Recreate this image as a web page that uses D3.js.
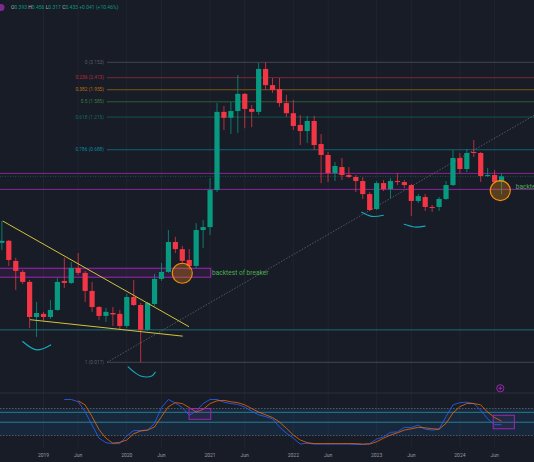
<!DOCTYPE html>
<html>
<head>
<meta charset="utf-8">
<script src="https://cdnjs.cloudflare.com/ajax/libs/d3/7.8.5/d3.min.js"></script>
<style>
  body { margin: 0; background: #181c27; }
  svg { display: block; font-family: Roboto, "Noto Sans", sans-serif; }
</style>
</head>
<body>
<div id="chart"></div>
<script>
// monthly candles, first one is Jul 2018 (month -6, month 0 = Jan 2019)
var firstMonth = -6;
var opens  = [0.136,0.141,0.0993,0.082,0.0689,0.0374,0.0395,0.0374,0.0423,0.0701,0.0677,0.0879,0.0806,0.0589,0.0445,0.0381,0.0401,0.0395,
              0.032,0.053,0.0461,0.0299,0.0469,0.0726,0.082,0.138,0.122,0.101,0.091,0.17,
              0.179,0.341,1.33,1.2,1.35,1.82,1.4,1.33,2.81,2.12,1.98,1.55,
              1.3,1.06,0.953,1.135,0.76,0.628,0.458,0.509,0.443,0.428,0.399,0.318,
              0.245,0.385,0.347,0.399,0.392,0.372,0.282,0.302,0.254,0.254,0.292,0.372,
              0.596,0.492,0.662,0.65,0.435,0.443,0.393];
var highs  = [0.199,0.143,0.105,0.0849,0.0713,0.0486,0.0409,0.0503,0.0739,0.105,0.0975,0.114,0.0834,0.0689,0.0453,0.0438,0.0445,0.0423,
              0.0559,0.0713,0.0477,0.0486,0.0792,0.0959,0.17,0.151,0.129,0.122,0.192,0.203,
              0.42,1.55,1.47,1.58,2.53,1.85,1.5,3.11,3.153,2.4,2.4,1.79,
              1.64,1.26,1.24,1.24,0.905,0.662,0.555,0.596,0.509,0.443,0.428,0.329,
              0.399,0.406,0.42,0.458,0.406,0.379,0.318,0.318,0.263,0.302,0.399,0.685,
              0.65,0.697,0.815,0.662,0.5,0.483,0.456];
var lows   = [0.12,0.091,0.0599,0.0665,0.0309,0.0265,0.0349,0.0362,0.0416,0.062,0.0665,0.0778,0.0486,0.0409,0.0355,0.0343,0.032,0.0299,
              0.0309,0.0453,0.017,0.0294,0.0453,0.0701,0.0806,0.114,0.0942,0.0849,0.0879,0.1245,
              0.156,0.329,0.97,0.905,0.921,1.0,1.02,1.26,1.947,1.85,1.45,1.22,
              0.97,0.747,0.774,0.685,0.385,0.392,0.399,0.406,0.42,0.329,0.292,0.237,
              0.241,0.335,0.297,0.372,0.353,0.217,0.272,0.237,0.233,0.237,0.287,0.366,
              0.458,0.466,0.606,0.392,0.428,0.385,0.317];
var closes = [0.141,0.101,0.0834,0.0689,0.0374,0.0401,0.0374,0.0423,0.0689,0.0677,0.0879,0.0806,0.0589,0.0445,0.0381,0.0409,0.0391,0.032,
              0.053,0.0461,0.0299,0.0477,0.0726,0.082,0.138,0.122,0.0993,0.091,0.17,0.179,
              0.341,1.33,1.2,1.35,1.82,1.4,1.33,2.81,2.12,1.95,1.55,1.3,
              1.04,0.953,1.135,0.747,0.628,0.458,0.518,0.443,0.428,0.399,0.318,0.241,
              0.385,0.347,0.399,0.392,0.372,0.282,0.307,0.254,0.25,0.292,0.372,0.596,
              0.492,0.65,0.65,0.435,0.443,0.392,0.433];

// stochastic lines (K starts Apr 2019, D starts Jun 2019)
var kStart = 3, dStart = 5;
var stochK = [100,100,95,73,43,14,4,2,2,19,31,31,32,47,82,100,92,82,65,74,91,100,100,94,91,89,83,74,66,62,57,39,25,14,
              1,3,1,1,1,1,1,1,0,0,2,12,17,27,28,38,38,43,34,32,34,62,88,93,94,91,76,57,44,44];
var stochD = [97,88,62,33,14,3,5,10,24,30,32,39,62,84,93,91,82,72,78,91,97,98,95,93,88,80,72,66,60,50,36,21,
              10,4,2,2,2,2,2,2,2,1,1,6,14,21,26,32,35,38,37,35,34,47,70,84,91,91,88,72,60,52];
var oscBand = [20, 80];
var oscLevels = [49.5, 71.5];

var tickLabels = ["2019","Jun","2020","Jun","2021","Jun","2022","Jun","2023","Jun","2024","Jun"];
var tickMonths = [0,5,12,17,24,29,36,41,48,53,60,65];

// fib retracement drawn from the Mar 2020 low
var fibLevels = [0, 0.236, 0.382, 0.5, 0.618, 0.786, 1];
var fibPrices = [3.153, 2.413, 1.955, 1.585, 1.215, 0.688, 0.017];
var fibColors = ["#787b86","#f23645","#ff9800","#4caf50","#089981","#00bcd4","#787b86"];
var fibStartMonth = 9.15, fibEndMonth = 83.9;

// other drawings (month, price)
var teal_level = 0.0299;
var purpleLevels = [0.456, 0.345];
var lastPrice = 0.433;
var breakerBox = {m0: -7, m1: 24.1, p0: 0.0874, p1: 0.0748};
var circles = [[20.0, 0.0801], [65.82, 0.338]];
var trendTop = [[-5.88, 0.199], [20.97, 0.0316]];
var trendBottom = [[-1.95, 0.0357], [20.06, 0.0268]];
var smiles = [
  [[-3.0,0.0244],[-1.0,0.0211],[1.04,0.0230]],
  [[12.2,0.0157],[14.0,0.0134],[15.6,0.0134],[16.1,0.0143]],
  [[45.85,0.2315],[47.3,0.2157],[48.96,0.2198]],
  [[51.99,0.188],[53.5,0.1793],[54.97,0.182]]
];
var notes = [["backtest of breaker", 24.28, 0.0816], ["backtest", 68.04, 0.36]];
var oscBoxes = [[20.97, 24.1, 80, 56], [64.8, 67.85, 65, 35]];

var width = 534, height = 462;
var paneSplit = 393;

var x = d3.scaleLinear().domain([0, 60]).range([43.5, 459.9]);
var y = d3.scaleLog().domain([0.017, 3.153]).range([362.3, 62.3]);
var yOsc = d3.scaleLinear().domain([0, 100]).range([444.5, 399.5]);

var up = "#089981", down = "#f23645";

var svg = d3.select("#chart").append("svg")
	.attr("width", width)
	.attr("height", height)
	.style("background", "#181c27");

svg.append("clipPath").attr("id", "mainClip")
	.append("rect").attr("width", width).attr("height", paneSplit);
svg.append("clipPath").attr("id", "oscClip")
	.append("rect").attr("y", paneSplit).attr("width", width).attr("height", 56);

// vertical grid
svg.selectAll(".vgrid").data(tickMonths).enter().append("line")
	.attr("x1", function(d){ return x(d); })
	.attr("x2", function(d){ return x(d); })
	.attr("y1", 0).attr("y2", 448)
	.attr("stroke", "#20242f");

svg.append("line")
	.attr("x1", 0).attr("x2", width)
	.attr("y1", paneSplit).attr("y2", paneSplit)
	.attr("stroke", "#2a2e39");

var main = svg.append("g").attr("clip-path", "url(#mainClip)");

// fib
var fibX0 = x(fibStartMonth);
fibPrices.forEach(function(p, i){
	main.append("line")
		.attr("x1", fibX0).attr("x2", width)
		.attr("y1", y(p)).attr("y2", y(p))
		.attr("stroke", fibColors[i])
		.attr("stroke-opacity", 0.45);
	main.append("text")
		.attr("x", fibX0 - 3).attr("y", y(p))
		.attr("dy", "0.35em")
		.attr("text-anchor", "end")
		.attr("font-size", 4.8)
		.attr("fill", fibColors[i])
		.attr("fill-opacity", 0.7)
		.text(fibLevels[i] + " (" + p.toFixed(3) + ")");
});
main.append("line")
	.attr("x1", x(fibStartMonth)).attr("y1", y(0.017))
	.attr("x2", x(fibEndMonth)).attr("y2", y(3.153))
	.attr("stroke", "#787b86").attr("stroke-opacity", 0.6)
	.attr("stroke-dasharray", "1.5,1.5");

// horizontal levels
main.append("line")
	.attr("x1", 0).attr("x2", width)
	.attr("y1", y(teal_level)).attr("y2", y(teal_level))
	.attr("stroke", "#22808c").attr("stroke-opacity", 0.8);
main.selectAll(".plevel").data(purpleLevels).enter().append("line")
	.attr("x1", 0).attr("x2", width)
	.attr("y1", function(d){ return y(d); })
	.attr("y2", function(d){ return y(d); })
	.attr("stroke", "#9c27b0").attr("stroke-opacity", 0.85);
main.append("line")
	.attr("x1", 0).attr("x2", width)
	.attr("y1", y(lastPrice)).attr("y2", y(lastPrice))
	.attr("stroke", "#089981").attr("stroke-opacity", 0.45)
	.attr("stroke-dasharray", "1,1.5");

// breaker box
main.append("rect")
	.attr("x", x(breakerBox.m0))
	.attr("y", y(breakerBox.p0))
	.attr("width", x(breakerBox.m1) - x(breakerBox.m0))
	.attr("height", y(breakerBox.p1) - y(breakerBox.p0))
	.attr("fill", "#9c27b0").attr("fill-opacity", 0.12)
	.attr("stroke", "#9c27b0").attr("stroke-width", 1);

// candles
var candles = opens.map(function(o, i){
	return {m: i + firstMonth, o: o, h: highs[i], l: lows[i], c: closes[i]};
});
var cg = main.selectAll(".candle").data(candles).enter().append("g");
cg.append("line")
	.attr("x1", function(d){ return x(d.m); })
	.attr("x2", function(d){ return x(d.m); })
	.attr("y1", function(d){ return y(d.h); })
	.attr("y2", function(d){ return y(d.l); })
	.attr("stroke", function(d){ return d.c >= d.o ? up : down; })
	.attr("stroke-opacity", 0.75);
cg.append("rect")
	.attr("x", function(d){ return x(d.m) - 2.6; })
	.attr("width", 5.2)
	.attr("y", function(d){ return y(Math.max(d.o, d.c)); })
	.attr("height", function(d){ return Math.max(1, Math.abs(y(d.o) - y(d.c))); })
	.attr("fill", function(d){ return d.c >= d.o ? up : down; });

// trend lines
[trendTop, trendBottom].forEach(function(t){
	main.append("line")
		.attr("x1", x(t[0][0])).attr("y1", y(t[0][1]))
		.attr("x2", x(t[1][0])).attr("y2", y(t[1][1]))
		.attr("stroke", "#d4c23c").attr("stroke-width", 1);
});

// smiles under the lows
var smileLine = d3.line()
	.x(function(d){ return x(d[0]); })
	.y(function(d){ return y(d[1]); })
	.curve(d3.curveCatmullRom);
main.selectAll(".smile").data(smiles).enter().append("path")
	.attr("d", smileLine)
	.attr("fill", "none")
	.attr("stroke", "#17a9bf")
	.attr("stroke-width", 1.2)
	.attr("stroke-linecap", "round");

// circles
main.selectAll(".ring").data(circles).enter().append("circle")
	.attr("cx", function(d){ return x(d[0]); })
	.attr("cy", function(d){ return y(d[1]); })
	.attr("r", 10)
	.attr("fill", "#ff9800").attr("fill-opacity", 0.28)
	.attr("stroke", "#f08a12").attr("stroke-width", 1.2);

main.selectAll(".note").data(notes).enter().append("text")
	.attr("x", function(d){ return x(d[1]); })
	.attr("y", function(d){ return y(d[2]); })
	.attr("dy", "0.35em")
	.attr("font-size", 6.6)
	.attr("fill", "#4caf50")
	.text(function(d){ return d[0]; });

// plus button
var plus = svg.append("g").attr("transform", "translate(" + x(65.82) + ",388.3)");
plus.append("circle").attr("r", 3.6).attr("fill", "none").attr("stroke", "#9c27b0");
plus.append("path").attr("d", "M-1.8,0H1.8M0,-1.8V1.8").attr("stroke", "#9c27b0");

// oscillator pane
var osc = svg.append("g").attr("clip-path", "url(#oscClip)");
osc.append("rect")
	.attr("x", 0).attr("width", width)
	.attr("y", yOsc(oscBand[1]))
	.attr("height", yOsc(oscBand[0]) - yOsc(oscBand[1]))
	.attr("fill", "#2196f3").attr("fill-opacity", 0.1);
osc.selectAll(".band").data(oscBand).enter().append("line")
	.attr("x1", 0).attr("x2", width)
	.attr("y1", function(d){ return yOsc(d); })
	.attr("y2", function(d){ return yOsc(d); })
	.attr("stroke", "#787b86").attr("stroke-opacity", 0.6)
	.attr("stroke-dasharray", "1.5,1.5");
osc.selectAll(".lvl").data(oscLevels).enter().append("line")
	.attr("x1", 0).attr("x2", width)
	.attr("y1", function(d){ return yOsc(d); })
	.attr("y2", function(d){ return yOsc(d); })
	.attr("stroke", "#2a8c9c").attr("stroke-opacity", 0.85);

var kLine = d3.line()
	.x(function(d, i){ return x(i + kStart); })
	.y(function(d){ return yOsc(d); });
var dLine = d3.line()
	.x(function(d, i){ return x(i + dStart); })
	.y(function(d){ return yOsc(d); });
osc.append("path").attr("d", kLine(stochK))
	.attr("fill", "none").attr("stroke", "#2962ff").attr("stroke-opacity", 0.8);
osc.append("path").attr("d", dLine(stochD))
	.attr("fill", "none").attr("stroke", "#ff6d00").attr("stroke-opacity", 0.75);

osc.selectAll(".obox").data(oscBoxes).enter().append("rect")
	.attr("x", function(d){ return x(d[0]); })
	.attr("y", function(d){ return yOsc(d[2]); })
	.attr("width", function(d){ return x(d[1]) - x(d[0]); })
	.attr("height", function(d){ return yOsc(d[3]) - yOsc(d[2]); })
	.attr("fill", "#9c27b0").attr("fill-opacity", 0.1)
	.attr("stroke", "#9c27b0");

// time axis labels
svg.selectAll(".tick").data(tickLabels).enter().append("text")
	.attr("x", function(d, i){ return x(tickMonths[i]); })
	.attr("y", 456.5)
	.attr("text-anchor", "middle")
	.attr("font-size", 5)
	.attr("fill", "#9598a1")
	.text(function(d){ return d; });

// header legend
svg.append("circle").attr("cx", 1).attr("cy", 7.5).attr("r", 3.5).attr("fill", "#7b2a93");
var header = svg.append("text").attr("x", 11).attr("y", 9.2).attr("font-size", 5);
var last = candles[candles.length - 1];
var prevClose = candles[candles.length - 2].c;
var change = last.c - prevClose;
[["O", last.o], ["H", last.h], ["L", last.l], ["C", last.c]].forEach(function(p){
	header.append("tspan").attr("fill", "#b2b5be").text(p[0]);
	header.append("tspan").attr("fill", up).text(p[1].toFixed(3) + " ");
});
header.append("tspan").attr("fill", up)
	.text("+" + change.toFixed(3) + " (+" + (change / prevClose * 100).toFixed(2) + "%)");
</script>
</body>
</html>
